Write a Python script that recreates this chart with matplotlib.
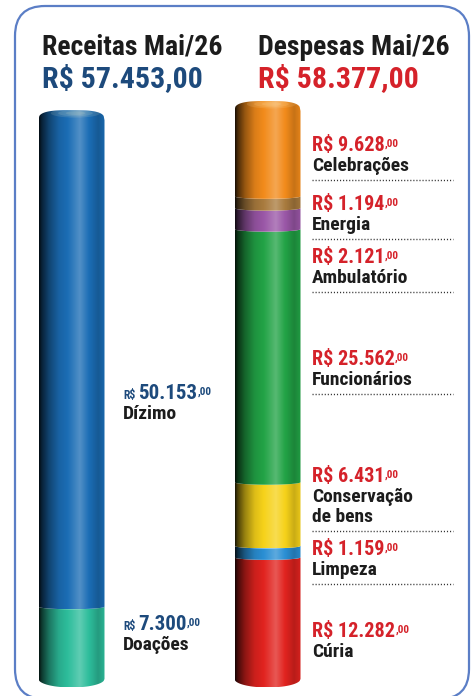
import numpy as np
import matplotlib
matplotlib.use("Agg")
import matplotlib.pyplot as plt
from matplotlib import font_manager as fm
from matplotlib.path import Path
from matplotlib.patches import FancyBboxPatch, Ellipse
from matplotlib.colors import to_rgb

# Receitas (bottom to top)
rec_names = ["Doações", "Dízimo"]
rec_amounts = ["7.300", "50.153"]
rec_values = [7300, 50153]
rec_colors = ["#2dbd9b", "#1b6db5"]
rec_total = "R$ 57.453,00"

# Despesas (bottom to top)
desp_names = ["Cúria", "Limpeza", "Conservação\nde bens", "Funcionários",
              "Ambulatório", "Energia", "Celebrações"]
desp_amounts = ["12.282", "1.159", "6.431", "25.562", "2.121", "1.194", "9.628"]
desp_values = [12282, 1159, 6431, 25562, 2121, 1194, 9628]
desp_colors = ["#e1231f", "#2a8fd4", "#f6d21a", "#22a346", "#9a57a7", "#a97b3e", "#f28b1b"]
desp_total = "R$ 58.377,00"

# layout (pixel rows of the label baselines, bottom to top)
rec_label_rows = [630, 399]
desp_label_rows = [637, 555, 482, 365, 263, 210, 151]


def bold_condensed():
    # look for a narrow / condensed bold face among installed fonts
    good = []
    for f in fm.fontManager.ttflist:
        w = f.weight if isinstance(f.weight, int) else {"bold": 700, "semibold": 600}.get(f.weight, 400)
        narrow = ("condensed" in str(f.stretch) or "Narrow" in f.name or "Condensed" in f.name
                  or "ondensed" in f.fname or "Narrow" in f.fname)
        if narrow and w >= 600 and "Italic" not in f.fname and "Oblique" not in f.fname:
            good.append(f)
    order = ["Liberation", "Noto Sans", "Roboto", "Open Sans", "DejaVu Sans", ""]
    for key in order:
        for f in good:
            if key in f.name and "Mono" not in f.fname and "Serif" not in f.fname:
                return fm.FontProperties(fname=f.fname), 1.0
    return fm.FontProperties(family="Roboto", weight="bold"), 0.88


FP, k = bold_condensed()

W, H = 475, 696
BLUE_TXT = "#1d4a7c"
RED_TXT = "#d5222a"
BLACK = "#1c1c1c"

fig = plt.figure(figsize=(W / 100, H / 100), dpi=100)
ax = fig.add_axes([0, 0, 1, 1])
ax.axis("off")

top_row, base_row = 101, 679
s = (base_row - top_row) / max(sum(rec_values), sum(desp_values))  # px per R$
gap = 196.0
bar_w = 66 / gap


def row_y(r):
    return (base_row - r) / s


def font(size):
    p = FP.copy()
    p.set_size(size * k)
    return p


def shade(color, n=200):
    t = np.linspace(0, 1, n)
    f = np.interp(t, [0, 0.04, 0.15, 0.3, 0.5, 0.62, 0.78, 0.9, 1.0],
                  [0.1, 0.3, 0.62, 0.9, 1.05, 1.15, 0.98, 0.82, 0.95])
    c = np.array(to_rgb(color))
    out = np.empty((2, n, 3))
    for i in range(n):
        if f[i] <= 1:
            out[:, i] = c * f[i]
        else:
            out[:, i] = c + (1 - c) * (f[i] - 1) * 1.6
    return np.clip(out, 0, 1)


def cylinder(xc, values, colors):
    hw = bar_w / 2
    u = np.linspace(-1, 1, 80)
    xs = xc + hw * u
    arc = np.sqrt(1 - u ** 2)
    e_bot, e_mid, r_top = 8.5 / s, 2.5 / s, 10 / s
    bottoms = np.concatenate([[0], np.cumsum(values)[:-1]])
    n = len(values)
    for i, (b, v, c) in enumerate(zip(bottoms, values, colors)):
        top = b + v
        lower = b - (e_bot if i == 0 else e_mid) * arc
        if i == n - 1:
            upper = top - r_top + r_top * (1 - np.abs(u) ** 3) ** (1 / 3)
        else:
            upper = top - e_mid * arc
        verts = np.vstack([np.column_stack([xs, lower]),
                           np.column_stack([xs[::-1], upper[::-1]]),
                           [[xs[0], lower[0]]]])
        path = Path(verts, closed=True)
        im = ax.imshow(shade(c), extent=(xc - hw, xc + hw, lower.min(), upper.max()),
                       aspect="auto", interpolation="bilinear", zorder=2)
        im.set_clip_path(path, ax.transData)
        if i == n - 1:
            # soft light on the top face
            for a, sc in [(0.12, 1.0), (0.12, 0.7), (0.12, 0.4)]:
                hl = Ellipse((xc + 0.12 * hw, top - 3 / s), 1.5 * hw * sc, 9 / s * sc,
                             color="#fff6c8", alpha=a, lw=0, zorder=3)
                ax.add_patch(hl)
                hl.set_clip_path(path, ax.transData)
    return xc + hw


rx = cylinder(0, rec_values, rec_colors)
dx = cylinder(1, desp_values, desp_colors)

ax.set_xlim(-71.5 / gap, (W - 71.5) / gap)
ax.set_ylim(-(H - base_row) / s, base_row / s)

# headers
fig.text(42 / W, 1 - 55 / H, "Receitas Mai/26", fontproperties=font(20),
         color=BLACK, va="baseline")
fig.text(42 / W, 1 - 87 / H, rec_total, fontproperties=font(21.5),
         color=BLUE_TXT, va="baseline")
fig.text(258 / W, 1 - 55 / H, "Despesas Mai/26", fontproperties=font(20),
         color=BLACK, va="baseline")
fig.text(258 / W, 1 - 87 / H, desp_total, fontproperties=font(21.5),
         color=RED_TXT, va="baseline")

px = 0.72  # points per pixel

# receitas labels
for name, amt, r in zip(rec_names, rec_amounts, rec_label_rows):
    y = row_y(r)
    ax.annotate("R$", xy=(rx, y), xytext=(18.5 * px, 0), textcoords="offset points",
                fontproperties=font(8.5), color=BLUE_TXT, va="baseline")
    main = ax.annotate(amt, xy=(rx, y), xytext=(33.5 * px, 0), textcoords="offset points",
                       fontproperties=font(15), color=BLUE_TXT, va="baseline")
    ax.annotate(",00", xy=(1, 1), xycoords=main, xytext=(0.3, -2), textcoords="offset points",
                fontproperties=font(8), color=BLUE_TXT, va="top")
    ax.annotate(name, xy=(rx, y), xytext=(18.5 * px, -20 * px), textcoords="offset points",
                fontproperties=font(14), color=BLACK, va="baseline")

# despesas labels
for i, (name, amt, r) in enumerate(zip(desp_names, desp_amounts, desp_label_rows)):
    y = row_y(r)
    main = ax.annotate("R$ " + amt, xy=(dx, y), xytext=(11.5 * px, 0), textcoords="offset points",
                       fontproperties=font(14.5), color=RED_TXT, va="baseline")
    ax.annotate(",00", xy=(1, 1), xycoords=main, xytext=(0.3, -2), textcoords="offset points",
                fontproperties=font(8), color=RED_TXT, va="top")
    for j, line in enumerate(name.split("\n")):
        ax.annotate(line, xy=(dx, y), xytext=(11.5 * px, -20 * px * (j + 1)), textcoords="offset points",
                    fontproperties=font(14), color=BLACK, va="baseline")
    if i > 0:
        nl = name.count("\n") + 1
        yd = row_y(r + 20 * nl + 9)
        ax.plot([dx + 11.5 / gap, 453 / gap - 71.5 / gap], [yd, yd], color="#333333",
                lw=1.0, ls=(0, (0.8, 1.4)), zorder=3)

# rounded frame
frame = FancyBboxPatch((0.15, -0.03), 4.54, 6.93, boxstyle="round,pad=0,rounding_size=0.3",
                       transform=fig.dpi_scale_trans, fill=False, ec="#5b7ec6", lw=1.6,
                       clip_on=False)
fig.add_artist(frame)

fig.savefig("out.png", dpi=100)
